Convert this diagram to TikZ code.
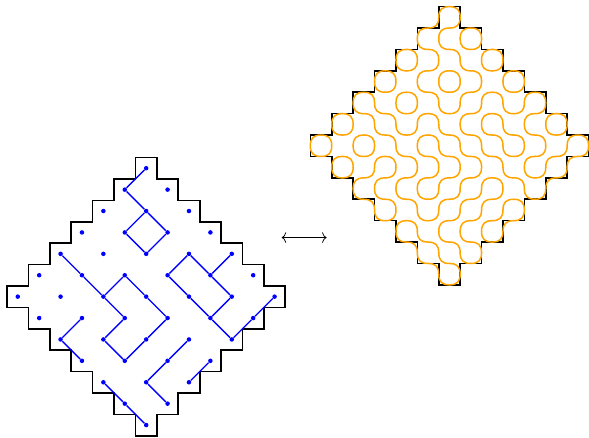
\documentclass[tikz,border=0pt]{standalone}
\usepackage{tikz}
\usetikzlibrary{arrows.meta}

\definecolor{treeblue}{RGB}{0,0,255}
\definecolor{looporange}{RGB}{255,165,0}

\tikzset{
  outline/.style={line width=1.1pt, black},
  treeedge/.style={line width=0.9pt, treeblue},
  treedot/.style={circle, fill=treeblue, inner sep=0pt, minimum size=3pt},
  loopline/.style={line width=1pt, looporange, line cap=round},
  arrowline/.style={line width=0.5pt, {To[length=3pt,width=7pt]}-{To[length=3pt,width=7pt]}}
}

\newcommand{\treeedges}{0/6/-1/5, -1/5/0/4, 0/4/-1/3, 0/4/1/3, -1/3/0/2, 1/3/0/2,
  -4/2/-3/1, -3/1/-2/0, -2/0/-1/1, -1/1/0/0, 0/0/1/-1, 1/-1/0/-2, 0/-2/-1/-3,
  -1/-3/-2/-2, -2/-2/-1/-1, -1/-1/-2/0, 2/2/1/1, 1/1/2/0, 2/0/3/-1, 3/-1/4/0,
  4/0/3/1, 3/1/2/2, 4/2/3/1, 3/-1/4/-2, 4/-2/5/-1, 5/-1/6/0, -3/-1/-4/-2,
  -4/-2/-3/-3, -2/-4/-1/-5, -1/-5/0/-6, 2/-2/1/-3, 1/-3/0/-4, 0/-4/1/-5, 2/-4/3/-3}

\newcommand{\arcm}{0.15}
\newcommand{\looparc}[4]{\draw[loopline] ({#1+.5},{#2+.5+.5*(#4)})
  .. controls ({#1+.5},{#2+.5+\arcm*(#4)}) and ({#1+.5+\arcm*(#3)},{#2+.5})
  .. ({#1+.5+.5*(#3)},{#2+.5});}

\newcommand{\diamondoutline}{\draw[outline] (-0.5,6.5)
  \foreach \k in {0,...,6}{ -- (\k+0.5,6.5-\k) -- (\k+0.5,5.5-\k) }
  \foreach \k in {0,...,5}{ -- (5.5-\k,-0.5-\k) -- (5.5-\k,-1.5-\k) } -- (-0.5,-6.5)
  \foreach \k in {0,...,5}{ -- (-0.5-\k,-5.5+\k) -- (-1.5-\k,-5.5+\k) } -- (-6.5,0.5)
  \foreach \k in {0,...,4}{ -- (-5.5+\k,0.5+\k) -- (-5.5+\k,1.5+\k) } -- (-0.5,5.5) -- cycle;}

\begin{document}
\begin{tikzpicture}[x=0.5cm,y=0.5cm]
  \useasboundingbox (-6.83,-6.56) rectangle (20.69,13.86);

  % tree on the black squares
  \diamondoutline
  \foreach \i in {-6,...,6}{
    \foreach \j in {-6,...,6}{
      \pgfmathtruncatemacro\keep{(abs(\i)+abs(\j)<7)*(mod(\i+\j+20,2)==0)}
      \ifnum\keep=1 \node[treedot] (d\i\j) at (\i,\j) {};\fi
    }
  }
  \foreach \ia/\ja/\ib/\jb in \treeedges{
    \draw[treeedge] (d\ia\ja) -- (d\ib\jb);
  }

  \coordinate (arrL) at (6.33,2.76);
  \coordinate (arrR) at (8.43,2.76);
  \draw[arrowline] (arrL) -- (arrR);

  % loops
  \begin{scope}[shift={(14.17,7.05)}]
    \diamondoutline
    \foreach \ia/\ja/\ib/\jb in \treeedges{
      \pgfmathtruncatemacro\ca{((\ia)+(\ib)-1)/2}
      \pgfmathtruncatemacro\cb{((\ja)+(\jb)-1)/2}
      \expandafter\gdef\csname be:\ca:\cb\endcsname{}
    }
    \foreach \cx in {-7,...,6}{
      \foreach \cy in {-7,...,6}{
        \pgfmathtruncatemacro\inLL{abs(\cx)+abs(\cy)<7}
        \pgfmathtruncatemacro\inLR{abs(\cx+1)+abs(\cy)<7}
        \pgfmathtruncatemacro\inUL{abs(\cx)+abs(\cy+1)<7}
        \pgfmathtruncatemacro\inUR{abs(\cx+1)+abs(\cy+1)<7}
        \pgfmathtruncatemacro\nin{\inLL+\inLR+\inUL+\inUR}
        \pgfmathtruncatemacro\reflex{\nin==3}
        \pgfmathtruncatemacro\ev{mod(\cx+\cy+20,2)==0}
        \ifcsname be:\cx:\cy\endcsname\def\pres{1}\else\def\pres{0}\fi
        \ifnum\nin>0
          \ifnum\ev=\pres\relax
            \ifnum\numexpr\inLR+\reflex\relax>0 \looparc{\cx}{\cy}{1}{-1}\fi
            \ifnum\numexpr\inUL+\reflex\relax>0 \looparc{\cx}{\cy}{-1}{1}\fi
          \else
            \ifnum\numexpr\inLL+\reflex\relax>0 \looparc{\cx}{\cy}{-1}{-1}\fi
            \ifnum\numexpr\inUR+\reflex\relax>0 \looparc{\cx}{\cy}{1}{1}\fi
          \fi
        \fi
      }
    }
  \end{scope}
\end{tikzpicture}
\end{document}
